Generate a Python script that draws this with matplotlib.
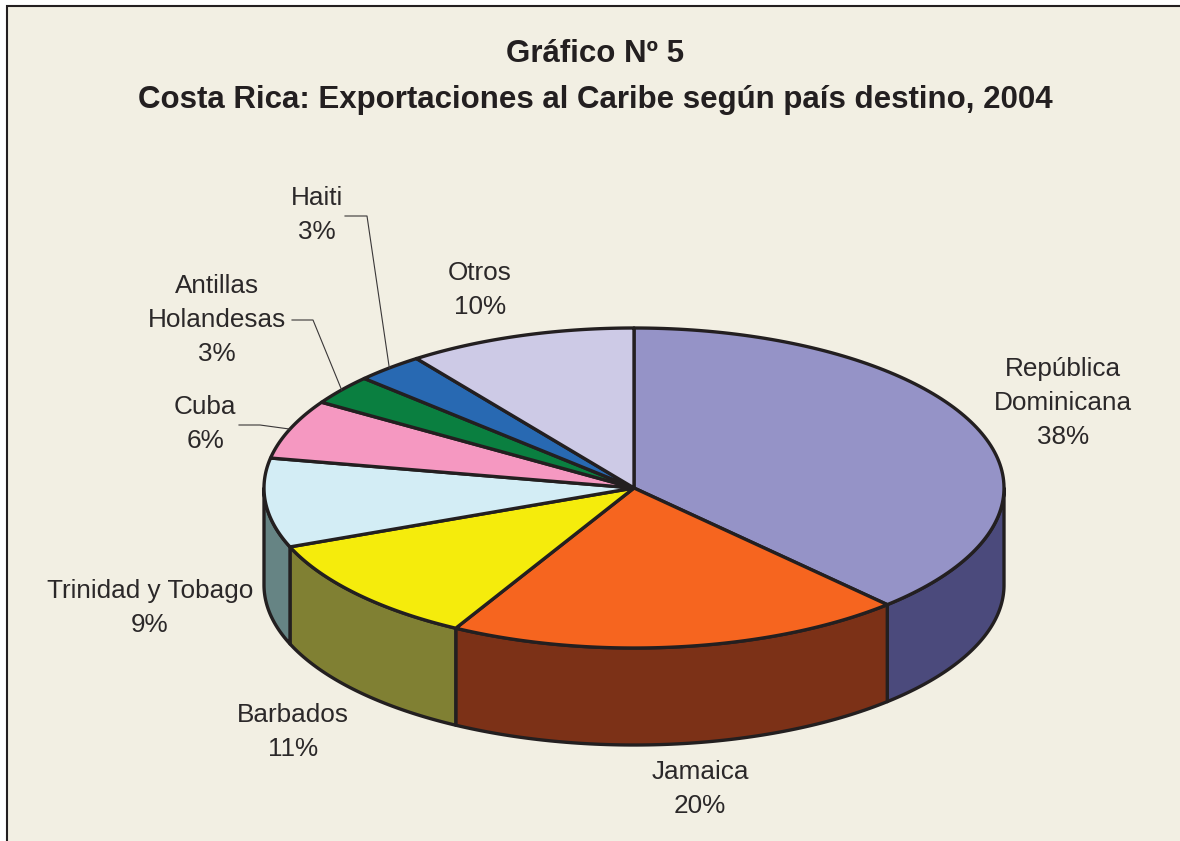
import numpy as np
import matplotlib
matplotlib.use("Agg")
import matplotlib.pyplot as plt
from matplotlib.patches import Polygon, Rectangle

plt.rcParams['font.family'] = ['Liberation Sans', 'DejaVu Sans']

# Datos
paises = ['República\nDominicana', 'Jamaica', 'Barbados', 'Trinidad y Tobago', 'Cuba',
          'Antillas\nHolandesas', 'Haiti', 'Otros']
valores = [38, 20, 11, 9, 6, 3, 3, 10]
colores = ['#9593c7', '#f6651f', '#f5ec0c', '#d3edf5', '#f598c1', '#0a7f40', '#2869b2', '#cdcae6']
colores_lado = ['#4b4a7c', '#7c3117', '#808033', '#668484', '#7c4c61', '#054020', '#143559', '#676573']
titulo = 'Gráfico Nº 5\nCosta Rica: Exportaciones al Caribe según país destino, 2004'

# Posicion de las etiquetas (centro x, centro y), en pixeles
pos_etiquetas = [(1063, 403), (700, 789), (293, 732), (150, 608), (205, 424), (217, 320), (317, 215), (480, 290)]
# Lineas guia: indice del pais, codo y extremo del texto
guias = {4: [(239, 425), (260, 425)], 5: [(292, 320), (313, 320)], 6: [(345, 216), (367, 216)]}

CX, CY, RX, RY, ALTO = 634, 488, 370, 160, 97
BORDE = '#231f20'


def punto(ang):
    # angulo en grados desde las 12, en sentido horario
    a = np.radians(ang)
    return CX + RX * np.sin(a), CY - RY * np.cos(a)


fig = plt.figure(figsize=(11.8, 8.41), dpi=100, facecolor='white')
ax = fig.add_axes([0, 0, 1, 1])
ax.set_xlim(0, 1180)
ax.set_ylim(841, 0)
ax.axis('off')

ax.add_patch(Rectangle((7, 6), 1180, 850, facecolor='#f2efe3', edgecolor='#231f20', lw=1.5, zorder=0))

limites = np.concatenate([[0], np.cumsum(valores)]) / sum(valores) * 360

# Lados visibles del cilindro (parte frontal, entre 90 y 270 grados)
for i in range(len(valores)):
    ini, fin = max(limites[i], 90), min(limites[i + 1], 270)
    if ini >= fin:
        continue
    ang = np.linspace(ini, fin, 80)
    x, y = punto(ang)
    xy = np.r_[np.c_[x, y], np.c_[x, y + ALTO][::-1]]
    ax.add_patch(Polygon(xy, closed=True, facecolor=colores_lado[i], edgecolor=BORDE, lw=2.4,
                         joinstyle='round', zorder=2))

# Cara superior
for i in range(len(valores)):
    ang = np.linspace(limites[i], limites[i + 1], 120)
    x, y = punto(ang)
    xy = np.r_[[[CX, CY]], np.c_[x, y]]
    ax.add_patch(Polygon(xy, closed=True, facecolor=colores[i], edgecolor=BORDE, lw=2.4,
                         joinstyle='round', zorder=3))

# Etiquetas
for i, (nombre, valor) in enumerate(zip(paises, valores)):
    ax.text(pos_etiquetas[i][0], pos_etiquetas[i][1], f'{nombre}\n{valor}%', ha='center', va='center',
            fontsize=18.8, color='#2b2829', linespacing=1.52, zorder=5)

# Lineas guia hasta el punto medio de cada sector
for i, tramo in guias.items():
    medio = (limites[i] + limites[i + 1]) / 2
    px, py = punto(medio)
    ax.plot([tramo[0][0], tramo[1][0], px], [tramo[0][1], tramo[1][1], py], color='#3a3738', lw=0.8, zorder=4)

ax.text(595, 77, titulo, ha='center', va='center', fontsize=22.5, fontweight='bold', color='#231f20',
        linespacing=1.7, zorder=5)

fig.savefig('out.png', dpi=100, facecolor=fig.get_facecolor())
